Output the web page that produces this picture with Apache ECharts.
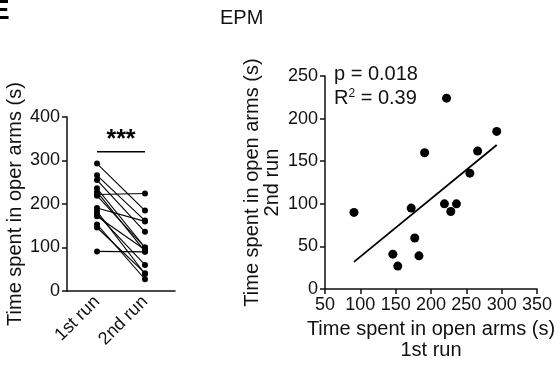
<!DOCTYPE html>
<html><head><meta charset="utf-8">
<script src="https://cdn.jsdelivr.net/npm/echarts@6/dist/echarts.min.js"></script>
<style>html,body{margin:0;padding:0;background:#fff}#c{width:560px;height:366px}</style>
</head><body><div id="c"></div>
<script>
// Data
const runLabels = ['1st run', '2nd run'];
const firstRun  = [91, 222, 293, 266, 191, 255, 219, 236, 228, 172, 177, 146, 153, 183];
const secondRun = [90, 224, 185, 162, 160, 136, 100, 100, 91, 95, 60, 41, 27, 39];
const regLine = [[91, 32], [293, 169]];
const sigBar = [[0, 320], [1, 320]];

const font = 'Liberation Sans, Arial, sans-serif';
const axisLine = {show: true, onZero: false, lineStyle: {color: '#111', width: 1.5}};
const axisTick = {show: true, length: 5, inside: false, lineStyle: {color: '#111', width: 1.5}};
const lbl = {color: '#111', fontSize: 18, fontFamily: font};

const series = [];
firstRun.forEach((v, i) => {
  series.push({type: 'line', xAxisIndex: 0, yAxisIndex: 0, data: [[0, v], [1, secondRun[i]]],
    symbol: 'circle', symbolSize: 6, itemStyle: {color: '#000', opacity: 1},
    lineStyle: {color: '#000', width: 1.1}, silent: true, animation: false});
});
series.push({type: 'line', xAxisIndex: 0, yAxisIndex: 0, data: sigBar, symbol: 'none',
  lineStyle: {color: '#000', width: 1.5}, animation: false,
  markPoint: {symbol: 'rect', symbolSize: 0, data: [{coord: [0.5, 320], value: '***'}],
    label: {show: true, formatter: '***', position: 'top', distance: -1, color: '#000', fontSize: 25, fontWeight: 'bold', fontFamily: font}}});
series.push({type: 'scatter', xAxisIndex: 1, yAxisIndex: 1,
  data: firstRun.map((v, i) => [v, secondRun[i]]), symbolSize: 9,
  itemStyle: {color: '#000', opacity: 1}, animation: false});
series.push({type: 'line', xAxisIndex: 1, yAxisIndex: 1, data: regLine, symbol: 'none',
  lineStyle: {color: '#000', width: 1.8}, animation: false});

const chart = echarts.init(document.getElementById('c'), null, {renderer: 'canvas'});
chart.setOption({
  backgroundColor: '#fff',
  animation: false,
  grid: [
    {left: 67, top: 117, width: 108, height: 174},
    {left: 325, top: 76, width: 212, height: 214}
  ],
  xAxis: [
    {type: 'value', gridIndex: 0, min: -0.625, max: 1.625, splitLine: {show: false},
      axisLine: axisLine, axisTick: {show: false},
      axisLabel: Object.assign({}, lbl, {customValues: [0, 1], rotate: 45, margin: 8,
        formatter: v => runLabels[Math.round(v)]})},
    {type: 'value', gridIndex: 1, min: 50, max: 350, interval: 50, splitLine: {show: false},
      axisLine: axisLine, axisTick: axisTick, axisLabel: Object.assign({}, lbl, {margin: 7}),
      name: 'Time spent in open arms (s)\n1st run', nameLocation: 'middle', nameGap: 21,
      nameTextStyle: {color: '#111', fontSize: 20, fontFamily: font, lineHeight: 21, verticalAlign: 'top'}}
  ],
  yAxis: [
    {type: 'value', gridIndex: 0, min: 0, max: 400, interval: 100, splitLine: {show: false},
      axisLine: axisLine, axisTick: axisTick, axisLabel: Object.assign({}, lbl, {margin: 7}),
      name: 'Time spent in oper arms (s)', nameLocation: 'middle', nameGap: 42,
      nameTextStyle: {color: '#111', fontSize: 20, fontFamily: font}},
    {type: 'value', gridIndex: 1, min: 0, max: 250, interval: 50, splitLine: {show: false},
      axisLine: axisLine, axisTick: axisTick, axisLabel: Object.assign({}, lbl, {margin: 7}),
      name: 'Time spent in open arms (s)\n2nd run', nameLocation: 'middle', nameGap: 43,
      nameTextStyle: {color: '#111', fontSize: 20, fontFamily: font, lineHeight: 20}}
  ],
  graphic: [
    {type: 'text', x: -9, y: -3, style: {text: 'E', fontSize: 28, fontWeight: 'bold', fill: '#000', fontFamily: font}},
    {type: 'text', left: 220, top: 8, style: {text: 'EPM', fontSize: 20, fill: '#111', fontFamily: font}},
    {type: 'text', left: 334, top: 64, style: {text: 'p = 0.018', fontSize: 20, fill: '#111', fontFamily: font}},
    {type: 'text', left: 334, top: 88, style: {text: 'R{s|2} = 0.39', fontSize: 20, fill: '#111', fontFamily: font,
      rich: {s: {fontSize: 12, verticalAlign: 'top', padding: [0, 0, 8, 0], fontFamily: font, fill: '#111'}}}}
  ],
  series: series
});
</script></body></html>
